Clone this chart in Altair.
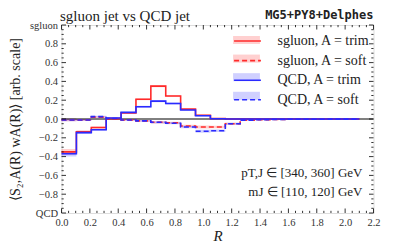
import altair as alt
import pandas as pd

# ---- data ----
bin_width = 0.105
n_bins = 20
labels = ["sgluon, A = trim", "sgluon, A = soft", "QCD, A = trim", "QCD, A = soft"]
colors = ["#ff2a2a", "#ff2a2a", "#2a2aff", "#2a2aff"]
dashes = [[1, 0], [5, 3], [1, 0], [5, 3]]

sg_trim = [-0.35, -0.135, -0.09, 0.005, 0.065, 0.21, 0.35, 0.245, 0.105, 0.04,
           0.005, 0.0, 0.0, 0.0, 0.0, 0.0, 0.0, 0.0, 0.0, 0.0]
sg_soft = [-0.01, -0.01, 0.02, 0.0, -0.01, -0.02, -0.035, -0.04, -0.075, -0.085,
           -0.085, -0.05, -0.012, -0.008, -0.005, -0.003, -0.002, -0.002, -0.001, -0.001]
qcd_trim = [-0.37, -0.145, -0.115, 0.01, 0.07, 0.13, 0.19, 0.165, 0.095, 0.035,
            0.002, 0.0, 0.0, 0.0, 0.0, 0.0, 0.0, 0.0, 0.0, 0.0]
qcd_soft = [-0.01, -0.01, 0.025, 0.005, -0.01, -0.02, -0.035, -0.045, -0.085, -0.13,
            -0.125, -0.05, -0.012, -0.008, -0.005, -0.003, -0.002, -0.002, -0.001, -0.001]
trim_err = [0.03, 0.015, 0.01, 0.008, 0.008, 0.01, 0.012, 0.01, 0.008, 0.008,
            0.006, 0.005, 0.005, 0.005, 0.005, 0.005, 0.005, 0.005, 0.005, 0.005]
soft_err = [0.015, 0.01, 0.01, 0.008, 0.008, 0.01, 0.012, 0.012, 0.014, 0.015,
            0.014, 0.01, 0.006, 0.005, 0.005, 0.005, 0.005, 0.005, 0.005, 0.005]

series_vals = [sg_trim, sg_soft, qcd_trim, qcd_soft]
series_err = [trim_err, soft_err, trim_err, soft_err]

x_major = [round(0.2 * i, 2) for i in range(12)]
x_minor = [round(0.05 * i, 2) for i in range(45) if i % 4 != 0]
y_major = [round(-1 + 0.2 * i, 2) for i in range(11)]
y_minor = [round(-1 + 0.05 * i, 2) for i in range(41) if i % 4 != 0]

rows = []
for lab, vals, errs in zip(labels, series_vals, series_err):
    for i in range(n_bins + 1):
        j = min(i, n_bins - 1)
        rows.append({"R": round(i * bin_width, 4), "val": vals[j],
                     "lo": vals[j] - errs[j], "hi": vals[j] + errs[j],
                     "series": lab, "band": lab})
df = pd.DataFrame(rows)

W, H = 312, 188
SERIF = "Liberation Serif"

xscale = alt.Scale(domain=[0, 2.2], nice=False, zero=False)
yscale = alt.Scale(domain=[-1, 1], nice=False, zero=False)

xaxis = alt.Axis(values=x_major, format=".1f", ticks=False, domain=False, grid=False,
                 labelFont=SERIF, labelFontSize=10.5, labelColor="#333", labelPadding=4,
                 labelFlush=False, labelOverlap=False, title="R", titleFont=SERIF,
                 titleFontSize=15, titleFontStyle="italic", titleFontWeight="normal",
                 titleColor="#222", titleY=15, titleBaseline="top")
yaxis = alt.Axis(values=y_major, ticks=False, domain=False, grid=False,
                 labelExpr="datum.value > 0.99 ? 'sgluon' : (datum.value < -0.99 ? 'QCD' : replace(format(datum.value, '.1f'), '-', '\u2212'))",
                 labelFont=SERIF, labelFontSize=10.5, labelColor="#333", labelPadding=4,
                 labelFlush=False, labelOverlap=False,
                 title="\u27e8S\u2082,A(R) wA(R)\u27e9 [arb. scale]", titleFont=SERIF,
                 titleFontSize=14, titleFontWeight="normal", titleColor="#222",
                 titleX=-46, titleBaseline="middle")

leg_common = dict(orient="none", legendX=178, legendY=8, title=None, labelFont=SERIF,
                  labelFontSize=14, labelOffset=22, rowPadding=4.6, padding=0,
                  symbolSize=180)

base = alt.Chart(df)

bands = base.mark_area(interpolate="step-after", opacity=0.22).encode(
    x=alt.X("R:Q", scale=xscale, axis=xaxis),
    y=alt.Y("lo:Q", scale=yscale, axis=yaxis),
    y2="hi:Q",
    fill=alt.Fill("band:N", sort=labels,
                  scale=alt.Scale(range=colors),
                  legend=alt.Legend(symbolType="M-2,-0.6H2V0.6H-2Z",
                                    symbolOpacity=0.22, symbolStrokeWidth=0,
                                    labelExpr="''", **leg_common)),
)

zero = alt.Chart(pd.DataFrame({"z": [0.0]})).mark_rule(color="black", strokeWidth=1).encode(
    y=alt.Y("z:Q", scale=yscale, axis=yaxis))

line_leg = dict(symbolType="M-2,0H2", symbolStrokeWidth=1.6, labelColor="#222",
                **leg_common)
lines = base.mark_line(interpolate="step-after", strokeWidth=1.6).encode(
    x=alt.X("R:Q", scale=xscale, axis=xaxis),
    y=alt.Y("val:Q", scale=yscale, axis=yaxis),
    color=alt.Color("series:N", scale=alt.Scale(domain=labels, range=colors),
                    legend=alt.Legend(**line_leg)),
    strokeDash=alt.StrokeDash("series:N", scale=alt.Scale(domain=labels, range=dashes),
                              legend=alt.Legend(**line_leg)),
)

def tick_layer(vals, ch, length, side):
    d = alt.Chart(pd.DataFrame({"v": vals}))
    if ch == "x":
        y0 = H if side == "low" else 0
        y1 = H - length if side == "low" else length
        return d.mark_rule(color="black", strokeWidth=0.8).encode(
            x=alt.X("v:Q", scale=xscale, axis=xaxis), y=alt.value(y0), y2=alt.value(y1))
    x0 = 0 if side == "low" else W
    x1 = length if side == "low" else W - length
    return d.mark_rule(color="black", strokeWidth=0.8).encode(
        y=alt.Y("v:Q", scale=yscale, axis=yaxis), x=alt.value(x0), x2=alt.value(x1))

ticks = [
    tick_layer(x_major, "x", 4.5, "low"), tick_layer(x_major, "x", 4.5, "high"),
    tick_layer(x_minor, "x", 2.2, "low"), tick_layer(x_minor, "x", 2.2, "high"),
    tick_layer(y_major, "y", 4.5, "low"), tick_layer(y_major, "y", 4.5, "high"),
    tick_layer(y_minor, "y", 2.2, "low"), tick_layer(y_minor, "y", 2.2, "high"),
]

ann_text = ["pT,J \u2208 [340, 360] GeV", "mJ  \u2208 [110, 120] GeV"]
ann1 = alt.Chart(pd.DataFrame({"t": [ann_text[0]]})).mark_text(
    align="right", baseline="middle", font=SERIF, fontSize=13, color="#222").encode(
    text="t:N", x=alt.value(301), y=alt.value(148))
ann2 = alt.Chart(pd.DataFrame({"t": [ann_text[1]]})).mark_text(
    align="right", baseline="middle", font=SERIF, fontSize=13, color="#222").encode(
    text="t:N", x=alt.value(301), y=alt.value(167))
tag = alt.Chart(pd.DataFrame({"t": ["MG5+PY8+Delphes"]})).mark_text(
    align="right", baseline="middle", font="DejaVu Sans Mono", fontSize=12,
    fontWeight="bold", color="#222").encode(
    text="t:N", x=alt.value(W), y=alt.value(-10))
title = alt.Chart(pd.DataFrame({"t": ["sgluon jet vs QCD jet"]})).mark_text(
    align="left", baseline="middle", font=SERIF, fontSize=15, color="#222").encode(
    text="t:N", x=alt.value(-1.5), y=alt.value(-9))

chart = alt.layer(bands, zero, lines, *ticks, ann1, ann2, tag, title).properties(
    width=W, height=H,
    autosize=alt.AutoSizeParams(type="none"),
    padding={"left": 53.5, "top": 17, "right": 25.5, "bottom": 36},
).configure_view(stroke="black", strokeWidth=1.2).configure(background="white")

chart.save("out.html", embed_options={"renderer": "svg", "actions": False})
